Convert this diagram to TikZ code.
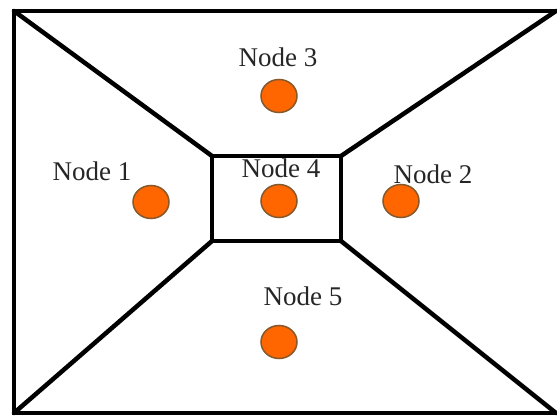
\documentclass[tikz,border=0pt]{standalone}
\usepackage{fontspec}
\setmainfont{Liberation Serif}
\usetikzlibrary{shapes.geometric}
\begin{document}
\begin{tikzpicture}[x=1pt,y=-1pt,
  wall/.style={line width=4.5pt,black},
  inner/.style={line width=3.5pt,black},
  dot/.style={ellipse,draw=brown!70!black,line width=1.5pt,fill=orange!80!red,minimum width=36pt,minimum height=33pt,inner sep=0pt},
  lbl/.style={anchor=base,font=\fontsize{27}{32}\selectfont,text=black!85,inner sep=0pt}]
\useasboundingbox[fill=white] (0,0) rectangle (557,417);
\coordinate (o1) at (14,11);
\coordinate (o2) at (563,11);
\coordinate (o3) at (563,413);
\coordinate (o4) at (14,413);
\coordinate (i1) at (212,156);
\coordinate (i2) at (341,156);
\coordinate (i3) at (341,241);
\coordinate (i4) at (212,241);
\draw[wall,line join=miter] (o1) -- (o2) -- (o3) -- (o4) -- cycle;
\draw[inner] (i1) -- (i2) -- (i3) -- (i4) -- cycle;
\draw[wall,line cap=round] (o1) -- (i1);
\draw[wall,line cap=round] (556,11) -- (i2);
\draw[wall,line cap=round] (556,413) -- (i3);
\draw[wall,line cap=round] (o4) -- (i4);
\node[dot] (n3) at (279,96) {};
\node[dot] (n1) at (151,202) {};
\node[dot] (n4) at (279,201) {};
\node[dot] (n2) at (401,201) {};
\node[dot] (n5) at (279,342) {};
\node[lbl] (l3) at (278,67) {Node 3};
\node[lbl] (l1) at (92,180) {Node 1};
\node[lbl] (l4) at (281,178) {Node 4};
\node[lbl] (l2) at (433,183) {Node 2};
\node[lbl] (l5) at (303,305) {Node 5};
\end{tikzpicture}
\end{document}
